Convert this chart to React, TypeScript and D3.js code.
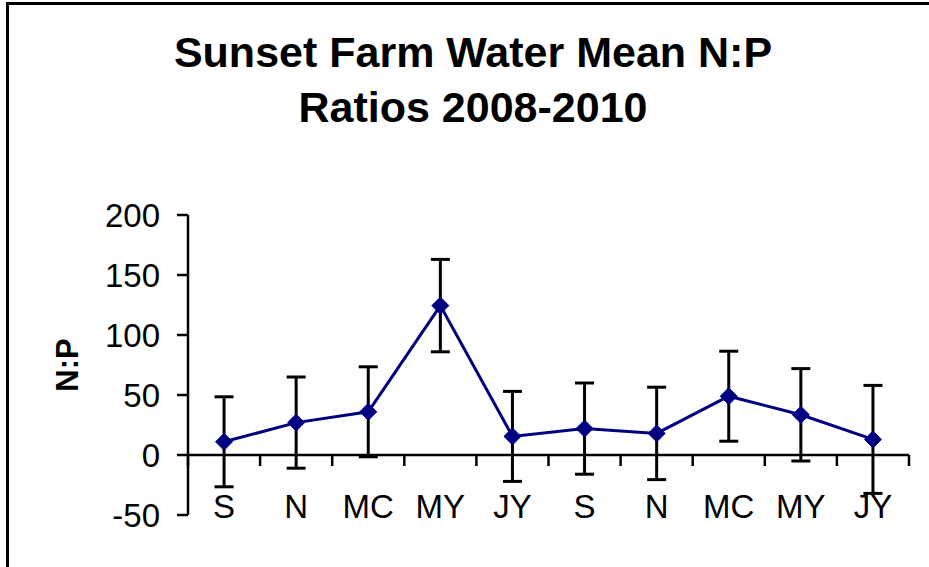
import React from "react";
import * as d3 from "d3";

const categories = ["S", "N", "MC", "MY", "JY", "S", "N", "MC", "MY", "JY"];
const means = [11, 27, 36, 124.5, 15.5, 22, 18, 49, 33.5, 13];
const errors = [37.5, 38, 37.5, 38.5, 37.5, 38, 38.5, 37.5, 38.5, 45];
const yTicks = [-50, 0, 50, 100, 150, 200];
const titleLines = ["Sunset Farm Water Mean N:P", "Ratios 2008-2010"];
const yTitle = "N:P";

const W = 929;
const H = 567;
const FONT = "'Liberation Sans', Arial, sans-serif";

export default function App() {
  const x = d3
    .scaleBand<number>()
    .domain(categories.map((_, i) => i))
    .range([188, 909])
    .paddingInner(0)
    .paddingOuter(0);
  const y = d3.scaleLinear().domain([-50, 200]).range([515, 215]);
  const cx = (i: number) => (x(i) as number) + x.bandwidth() / 2;

  const line = d3
    .line<number>()
    .x((_, i) => cx(i))
    .y((d) => y(d));

  const boundaries = d3.range(categories.length + 1).map((i) =>
    i < categories.length ? (x(i) as number) : 909
  );

  const navy = "#000080";
  const dSize = 8.5;

  return (
    <svg
      width={W}
      height={H}
      style={{ position: "absolute", left: 0, top: 0, background: "#fff" }}
    >
      <rect x={0} y={0} width={W} height={H} fill="#fff" />
      {/* frame */}
      <path d={`M7.5,${H + 5} V3.5 H${W + 5}`} fill="none" stroke="#000" strokeWidth={3} />

      {/* title */}
      {titleLines.map((t, i) => (
        <text
          key={i}
          x={473}
          y={67 + i * 55}
          textAnchor="middle"
          fontFamily={FONT}
          fontWeight="bold"
          fontSize={43}
          fill="#000"
        >
          {t}
        </text>
      ))}

      {/* y axis title */}
      <text
        transform={`translate(78,365) rotate(-90)`}
        textAnchor="middle"
        fontFamily={FONT}
        fontWeight="bold"
        fontSize={31}
        fill="#000"
      >
        {yTitle}
      </text>

      {/* y axis */}
      <line x1={188} x2={188} y1={y(200)} y2={y(-50)} stroke="#000" strokeWidth={2.5} />
      {yTicks.map((t) => (
        <g key={t}>
          <line x1={177} x2={188} y1={y(t)} y2={y(t)} stroke="#000" strokeWidth={2.5} />
          <text
            x={160}
            y={y(t)}
            dy="0.36em"
            textAnchor="end"
            fontFamily={FONT}
            fontSize={33}
            fill="#000"
          >
            {t}
          </text>
        </g>
      ))}

      {/* x axis */}
      <line x1={188} x2={909} y1={y(0)} y2={y(0)} stroke="#000" strokeWidth={2.5} />
      {boundaries.map((b, i) => (
        <line key={i} x1={b} x2={b} y1={y(0)} y2={y(0) + 11} stroke="#000" strokeWidth={2.5} />
      ))}
      {categories.map((c, i) => (
        <text
          key={i}
          x={cx(i)}
          y={518}
          textAnchor="middle"
          fontFamily={FONT}
          fontSize={33}
          fill="#000"
        >
          {c}
        </text>
      ))}

      {/* error bars */}
      {means.map((m, i) => {
        const px = cx(i);
        const top = y(m + errors[i]);
        const bot = y(m - errors[i]);
        return (
          <g key={i} stroke="#000" strokeWidth={3}>
            <line x1={px} x2={px} y1={top} y2={bot} />
            <line x1={px - 9.5} x2={px + 9.5} y1={top} y2={top} />
            <line x1={px - 9.5} x2={px + 9.5} y1={bot} y2={bot} />
          </g>
        );
      })}

      {/* line */}
      <path d={line(means) || ""} fill="none" stroke={navy} strokeWidth={3} />

      {/* markers */}
      {means.map((m, i) => {
        const px = cx(i);
        const py = y(m);
        return (
          <path
            key={i}
            d={`M${px},${py - dSize} L${px + dSize},${py} L${px},${py + dSize} L${px - dSize},${py} Z`}
            fill={navy}
            stroke={navy}
            strokeWidth={1}
          />
        );
      })}
    </svg>
  );
}
